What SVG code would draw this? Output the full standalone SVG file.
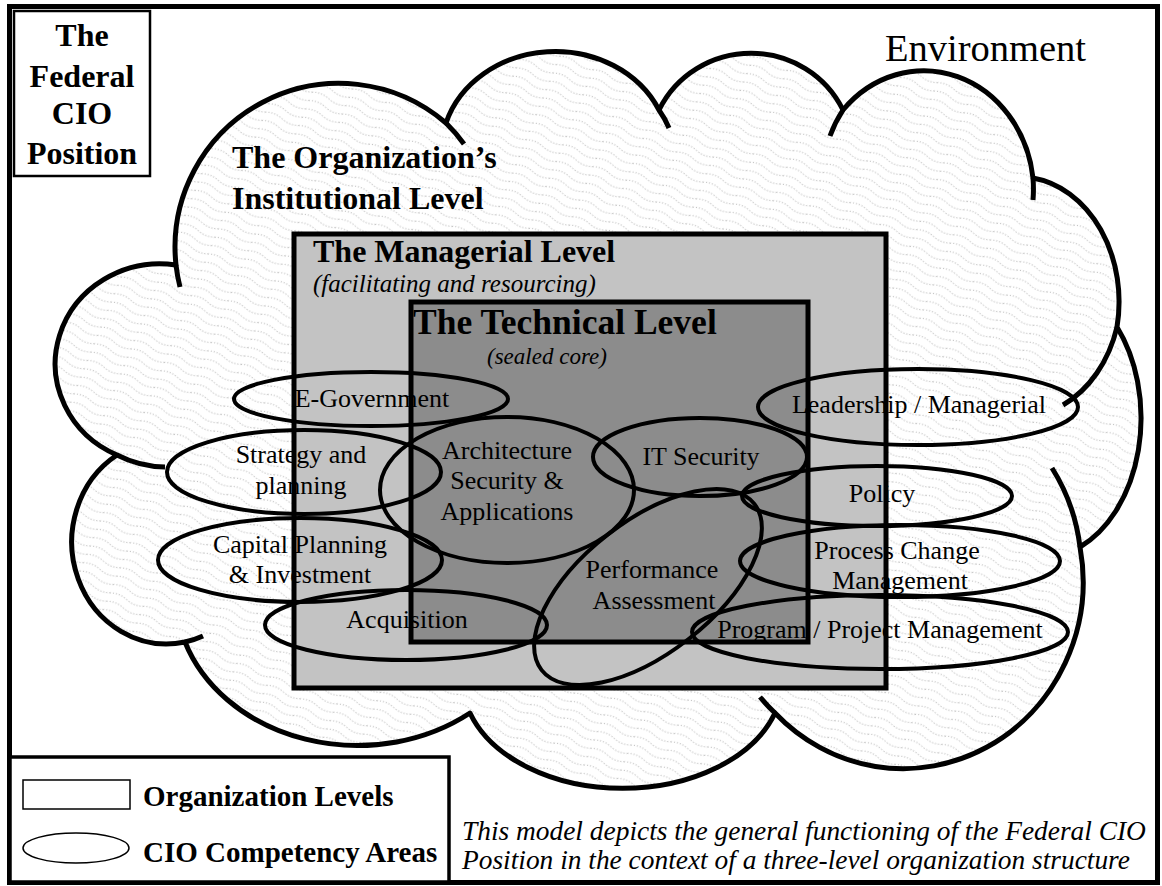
<svg xmlns="http://www.w3.org/2000/svg" width="1162" height="886" viewBox="0 0 1162 886">
<defs>
<pattern id="wave" width="36" height="9" patternUnits="userSpaceOnUse" patternTransform="rotate(22)">
<rect width="36" height="9" fill="#fff"/>
<path d="M0 4.5 Q9 1 18 4.5 T36 4.5" fill="none" stroke="#9a9a9a" stroke-width="0.9" stroke-dasharray="1 2"/>
</pattern>
<style>
text{font-family:'Liberation Serif','DejaVu Serif','Times New Roman',Times,serif;fill:#000}
.b{font-weight:bold}
.i{font-style:italic}
.c{text-anchor:middle}
.lbl{font-size:26px;text-anchor:middle}
.ell{fill:none;stroke:#000;stroke-width:4}
.edge{fill:none;stroke:#000;stroke-width:5}
.cloud{stroke:#000;stroke-width:5;stroke-linejoin:round}
.stub{fill:none;stroke:#000;stroke-width:5;stroke-linecap:butt}
</style>
</defs>
<rect width="1162" height="886" fill="#fff"/>
<g font-family="'Liberation Serif', 'DejaVu Serif', 'Times New Roman', serif">
<g id="frame">
<rect x="9.5" y="6.5" width="1148" height="876" fill="none" stroke="#000" stroke-width="5"/>
</g>
<g id="cio-position">
<rect x="14" y="11" width="136" height="165" fill="#fff" stroke="#000" stroke-width="2.5"/>
<text class="b c" font-size="32" x="82" y="46">The</text>
<text class="b c" font-size="32" x="82" y="87">Federal</text>
<text class="b c" font-size="32" x="82" y="124">CIO</text>
<text class="b c" font-size="32" x="82" y="164">Position</text>
</g>
<g id="environment">
<text font-size="38.5" x="885" y="61">Environment</text>
</g>
<g id="institutional-level">
<path class="cloud" fill="url(#wave)" d="M176 265 A164 164 0 0 1 446 123 A114 100 0 0 1 659 110 A102 100 0 0 1 843 110 A110 122 0 0 1 1033 178 A100 125 0 0 1 1117 327 A100 140 0 0 1 1080 547 A180 187 0 0 1 775 713 A160 108 0 0 1 470 713 A182 152 0 0 1 185 642 A95 102 0 0 1 117 455 A105 100 0 0 1 176 265 Z"/>
<path class="stub" d="M176 265 A164 164 0 0 0 180 287 M446 123 A164 164 0 0 1 464 144 M659 110 A114 100 0 0 1 669 128 M830 136 A110 122 0 0 1 843 110 M1033 178 A110 122 0 0 1 1033 200 M117 455 A105 100 0 0 0 165 467 M185 642 A95 102 0 0 0 203 636 M775 713 A180 187 0 0 1 760 697 M1052 468 A180 187 0 0 1 1080 547 M1117 327 A100 125 0 0 1 1063 405"/>
<text class="b" font-size="32" x="232" y="168">The Organization’s</text>
<text class="b" font-size="32" x="232" y="209">Institutional Level</text>
</g>
<g id="managerial-fill"><rect x="294" y="234" width="592" height="454" fill="#c3c3c3"/></g>
<g id="technical-fill"><rect x="411" y="302" width="397" height="340" fill="#8c8c8c"/></g>
<g id="level-titles">
<text class="b" font-size="32" x="313" y="262">The Managerial Level</text>
<text class="i" font-size="25" x="313" y="292">(facilitating and resourcing)</text>
<text class="b" font-size="35.5" x="413" y="334">The Technical Level</text>
<text class="i" font-size="23" x="487" y="364">(sealed core)</text>
</g>
<g id="competencies">
<g id="e-government"><ellipse class="ell" cx="371" cy="399" rx="137" ry="27"/><text class="lbl" x="372" y="407">E-Government</text></g>
<g id="strategy"><ellipse class="ell" cx="304" cy="472" rx="137" ry="42"/><text class="lbl" x="301" y="463">Strategy and</text><text class="lbl" x="301" y="494">planning</text></g>
<g id="capital-planning"><ellipse class="ell" cx="300" cy="560" rx="142" ry="42"/><text class="lbl" x="300" y="553">Capital Planning</text><text class="lbl" x="300" y="583">&amp; Investment</text></g>
<g id="acquisition"><ellipse class="ell" cx="406" cy="625" rx="141" ry="35"/><text class="lbl" x="407" y="628">Acquisition</text></g>
<g id="architecture"><ellipse class="ell" cx="507" cy="490" rx="127" ry="73"/><text class="lbl" x="507" y="459">Architecture</text><text class="lbl" x="507" y="489">Security &amp;</text><text class="lbl" x="507" y="520">Applications</text></g>
<g id="it-security"><ellipse class="ell" cx="700" cy="457" rx="107" ry="39"/><text class="lbl" x="701" y="465">IT Security</text></g>
<g id="performance"><ellipse class="ell" cx="648" cy="587" rx="135" ry="66" transform="rotate(-38 648 587)"/><text class="lbl" x="652" y="578">Performance</text><text class="lbl" x="654" y="609">Assessment</text></g>
<g id="leadership"><ellipse class="ell" cx="918" cy="407" rx="160" ry="38"/><text class="lbl" x="919" y="413">Leadership / Managerial</text></g>
<g id="policy"><ellipse class="ell" cx="877" cy="496" rx="135" ry="30"/><text class="lbl" x="882" y="502">Policy</text></g>
<g id="process-change"><ellipse class="ell" cx="900" cy="561" rx="160" ry="36"/><text class="lbl" x="897" y="559">Process Change</text><text class="lbl" x="900" y="589">Management</text></g>
<g id="program"><ellipse class="ell" cx="880" cy="632" rx="188" ry="37"/><text class="lbl" x="880" y="638">Program / Project Management</text></g>
</g>
<g id="managerial-level"><rect class="edge" x="294" y="234" width="592" height="454"/></g>
<g id="technical-level"><rect class="edge" x="411" y="302" width="397" height="340"/></g>
<g id="legend">
<rect x="10" y="757" width="439" height="125" fill="#fff" stroke="#000" stroke-width="3.5"/>
<rect x="23" y="780" width="107" height="29" fill="#fff" stroke="#000" stroke-width="1.5"/>
<ellipse cx="76" cy="848" rx="53" ry="15" fill="#fff" stroke="#000" stroke-width="1.5"/>
<text class="b" font-size="29" x="143" y="806">Organization Levels</text>
<text class="b" font-size="29" x="143" y="862">CIO Competency Areas</text>
</g>
<g id="caption">
<text class="i" font-size="27.4" x="462" y="840">This model depicts the general functioning of the Federal CIO</text>
<text class="i" font-size="27.4" x="462" y="869">Position in the context of a three-level organization structure</text>
</g>
<g id="connectors"/>
</g>
</svg>
